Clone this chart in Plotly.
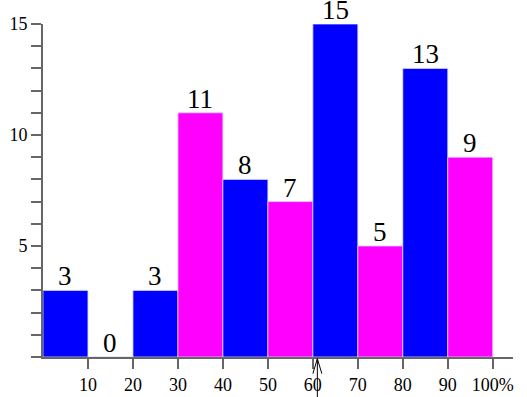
import plotly.graph_objects as go

bin_starts = [0, 10, 20, 30, 40, 50, 60, 70, 80, 90]
counts = [3, 0, 3, 11, 8, 7, 15, 5, 13, 9]
bar_colors = ["#0000ff", "#0000ff", "#0000ff", "#ff00ff", "#0000ff",
              "#ff00ff", "#0000ff", "#ff00ff", "#0000ff", "#ff00ff"]
x_tickvals = [10, 20, 30, 40, 50, 60, 70, 80, 90, 100]
x_ticktext = ["10", "20", "30", "40", "50", "60", "70", "80", "90", "100%"]
y_tickvals = [5, 10, 15]

bin_width = 10
centers = [s + bin_width / 2 for s in bin_starts]

font_family = "Liberation Serif"
axis_color = "#666666"

fig = go.Figure()
fig.add_trace(go.Bar(
    x=centers, y=counts, width=bin_width,
    marker=dict(color=bar_colors, line=dict(color="#d8d8ff", width=0.8)),
    cliponaxis=False, hoverinfo="skip",
))

for cx, c in zip(centers, counts):
    fig.add_annotation(x=cx, y=c, text=str(c), showarrow=False,
                       xanchor="center", yanchor="bottom", yshift=-2,
                       borderpad=0,
                       font=dict(family=font_family, size=27, color="black"))

# cursor-like arrow near 60
fig.add_shape(type="line", xref="x", yref="paper", x0=61, x1=61, y0=-0.005, y1=-0.15,
              line=dict(color="black", width=1))
fig.add_shape(type="path", xref="x", yref="paper",
              path="M 60,-0.05 L 61,-0.005 L 62,-0.05",
              line=dict(color="black", width=1))

fig.update_layout(
    width=527, height=397,
    margin=dict(l=43, r=14, t=24, b=40, autoexpand=False),
    plot_bgcolor="white", paper_bgcolor="white",
    showlegend=False,
    font=dict(family=font_family, size=18, color="black"),
    xaxis=dict(range=[0, 104.5], tickvals=x_tickvals, ticktext=x_ticktext,
               ticks="outside", ticklen=10, tickwidth=2, tickcolor=axis_color,
               showline=True, linecolor=axis_color, linewidth=2,
               showgrid=False, zeroline=False, automargin=False,
               tickfont=dict(family=font_family, size=18, color="black")),
    yaxis=dict(range=[0, 15], tickvals=y_tickvals,
               ticks="outside", ticklen=10, tickwidth=2, tickcolor=axis_color,
               minor=dict(dtick=1, ticks="outside", ticklen=10, tickwidth=2,
                          tickcolor=axis_color, showgrid=False),
               showline=True, linecolor=axis_color, linewidth=2,
               showgrid=False, zeroline=False, automargin=False,
               tickfont=dict(family=font_family, size=18, color="black")),
)

fig.write_html("out.html", config={"displayModeBar": False},
               post_script="document.body.style.margin='0';")
